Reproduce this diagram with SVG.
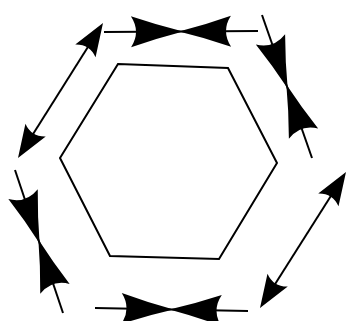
<svg xmlns="http://www.w3.org/2000/svg" width="349" height="321" viewBox="0 0 349 321">
<style>
.ln{stroke:#000;stroke-width:2;fill:none;stroke-linecap:butt}
.hd{fill:#000;stroke:none}
.hex{stroke:#000;stroke-width:2;fill:none;stroke-linejoin:miter}
</style>
<defs>
<path id="bigHead" d="M2,0 Q-24,-6.5 -50,-15.5 Q-40,0 -50,15.5 Q-24,6.5 2,0 Z"/>
<path id="smallHead" d="M0,0 L-33,-12 Q-25,0 -33,12 Z"/>
</defs>
<rect width="349" height="321" fill="#fff"/>
<g id="hexagon">
<polygon class="hex" points="118,64 228,68 277,163 219,259 110,256 60,158"/>
</g>
<g id="connectors">
<g id="top">
<line class="ln" x1="104" y1="32" x2="258" y2="31"/>
<use href="#bigHead" class="hd" transform="translate(181,31.5) rotate(-0.4)"/>
<use href="#bigHead" class="hd" transform="translate(181,31.5) rotate(179.6)"/>
</g>
<g id="upperRight">
<line class="ln" x1="262" y1="15" x2="312" y2="158"/>
<use href="#bigHead" class="hd" transform="translate(287,86.5) rotate(70.7)"/>
<use href="#bigHead" class="hd" transform="translate(287,86.5) rotate(250.7)"/>
</g>
<g id="lowerLeft">
<line class="ln" x1="15" y1="170" x2="63" y2="313"/>
<use href="#bigHead" class="hd" transform="translate(39,241.5) rotate(71.4)"/>
<use href="#bigHead" class="hd" transform="translate(39,241.5) rotate(251.4)"/>
</g>
<g id="bottom">
<line class="ln" x1="95" y1="308" x2="248" y2="311"/>
<use href="#bigHead" class="hd" transform="translate(171.5,309.5) rotate(1.1)"/>
<use href="#bigHead" class="hd" transform="translate(171.5,309.5) rotate(181.1)"/>
</g>
<g id="upperLeft">
<line class="ln" x1="26" y1="145.3" x2="95" y2="35.7"/>
<use href="#smallHead" class="hd" transform="translate(103,23) rotate(-57.8)"/>
<use href="#smallHead" class="hd" transform="translate(18,158) rotate(122.2)"/>
</g>
<g id="lowerRight">
<line class="ln" x1="268" y1="295.3" x2="338" y2="184.7"/>
<use href="#smallHead" class="hd" transform="translate(346,172) rotate(-57.7)"/>
<use href="#smallHead" class="hd" transform="translate(260,308) rotate(122.3)"/>
</g>
</g>
</svg>
